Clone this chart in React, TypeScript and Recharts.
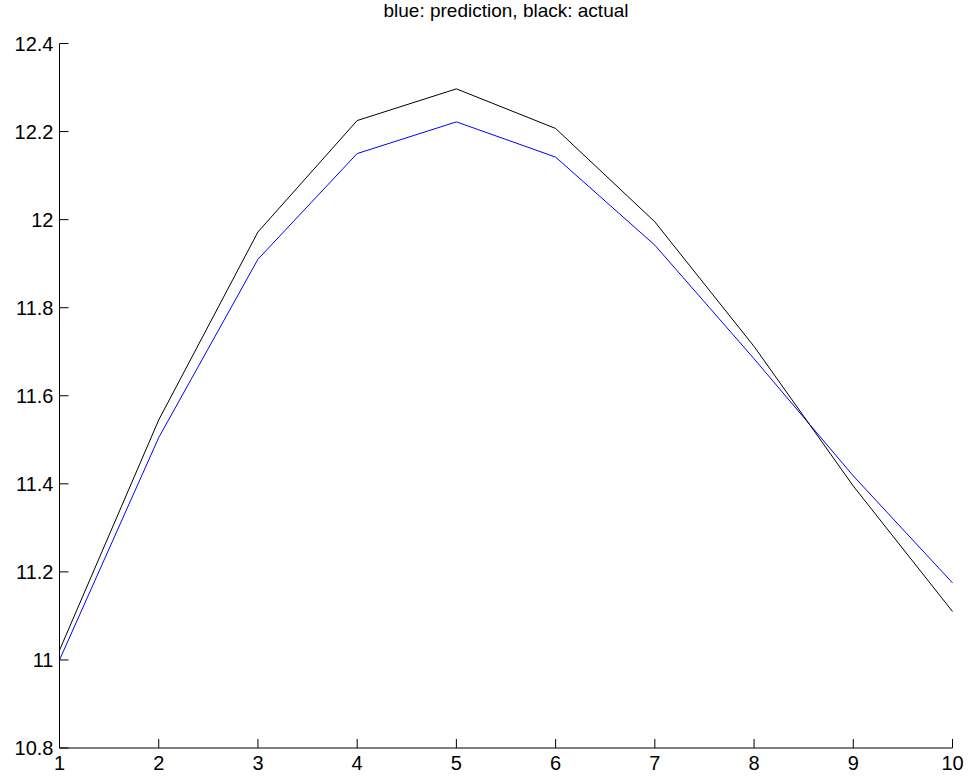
import { LineChart, Line, XAxis, YAxis } from 'recharts'

const steps = [1, 2, 3, 4, 5, 6, 7, 8, 9, 10]
const prediction = [11.0, 11.505, 11.91, 12.15, 12.222, 12.142, 11.942, 11.684, 11.418, 11.175]
const actual = [11.022, 11.545, 11.972, 12.225, 12.297, 12.207, 11.995, 11.712, 11.395, 11.11]
const yTicks = [10.8, 11, 11.2, 11.4, 11.6, 11.8, 12, 12.2, 12.4]
const xTicks = steps

const data = steps.map((s, i) => ({ step: s, prediction: prediction[i], actual: actual[i] }))

const font = 'Arial, "Liberation Sans", sans-serif'

export default function App() {
  return (
    <div style={{ position: 'absolute', left: 0, top: 0, width: 971, height: 777, background: '#fff' }}>
      <div
        style={{
          position: 'absolute',
          left: 59.5,
          width: 893,
          top: 0,
          textAlign: 'center',
          fontFamily: font,
          fontSize: 19,
          color: '#000',
        }}
      >
        blue: prediction, black: actual
      </div>
      <LineChart
        width={971}
        height={777}
        data={data}
        margin={{ top: 43.5, right: 18.5, bottom: 0, left: 19.5 }}
      >
        <XAxis
          dataKey="step"
          type="number"
          domain={[1, 10]}
          ticks={xTicks}
          height={29}
          tickSize={-9}
          tickMargin={17}
          stroke="#000"
          tick={{ fill: '#000', fontSize: 20, fontFamily: font }}
          interval={0}
        />
        <YAxis
          type="number"
          domain={[10.8, 12.4]}
          ticks={yTicks}
          width={40}
          tickSize={-9}
          tickMargin={15}
          stroke="#000"
          tick={{ fill: '#000', fontSize: 20, fontFamily: font }}
          interval={0}
          tickFormatter={(v: number) => String(Math.round(v * 10) / 10)}
        />
        <Line
          dataKey="prediction"
          stroke="#0000ff"
          strokeWidth={1}
          dot={false}
          isAnimationActive={false}
        />
        <Line
          dataKey="actual"
          stroke="#000000"
          strokeWidth={1}
          dot={false}
          isAnimationActive={false}
        />
      </LineChart>
    </div>
  )
}
